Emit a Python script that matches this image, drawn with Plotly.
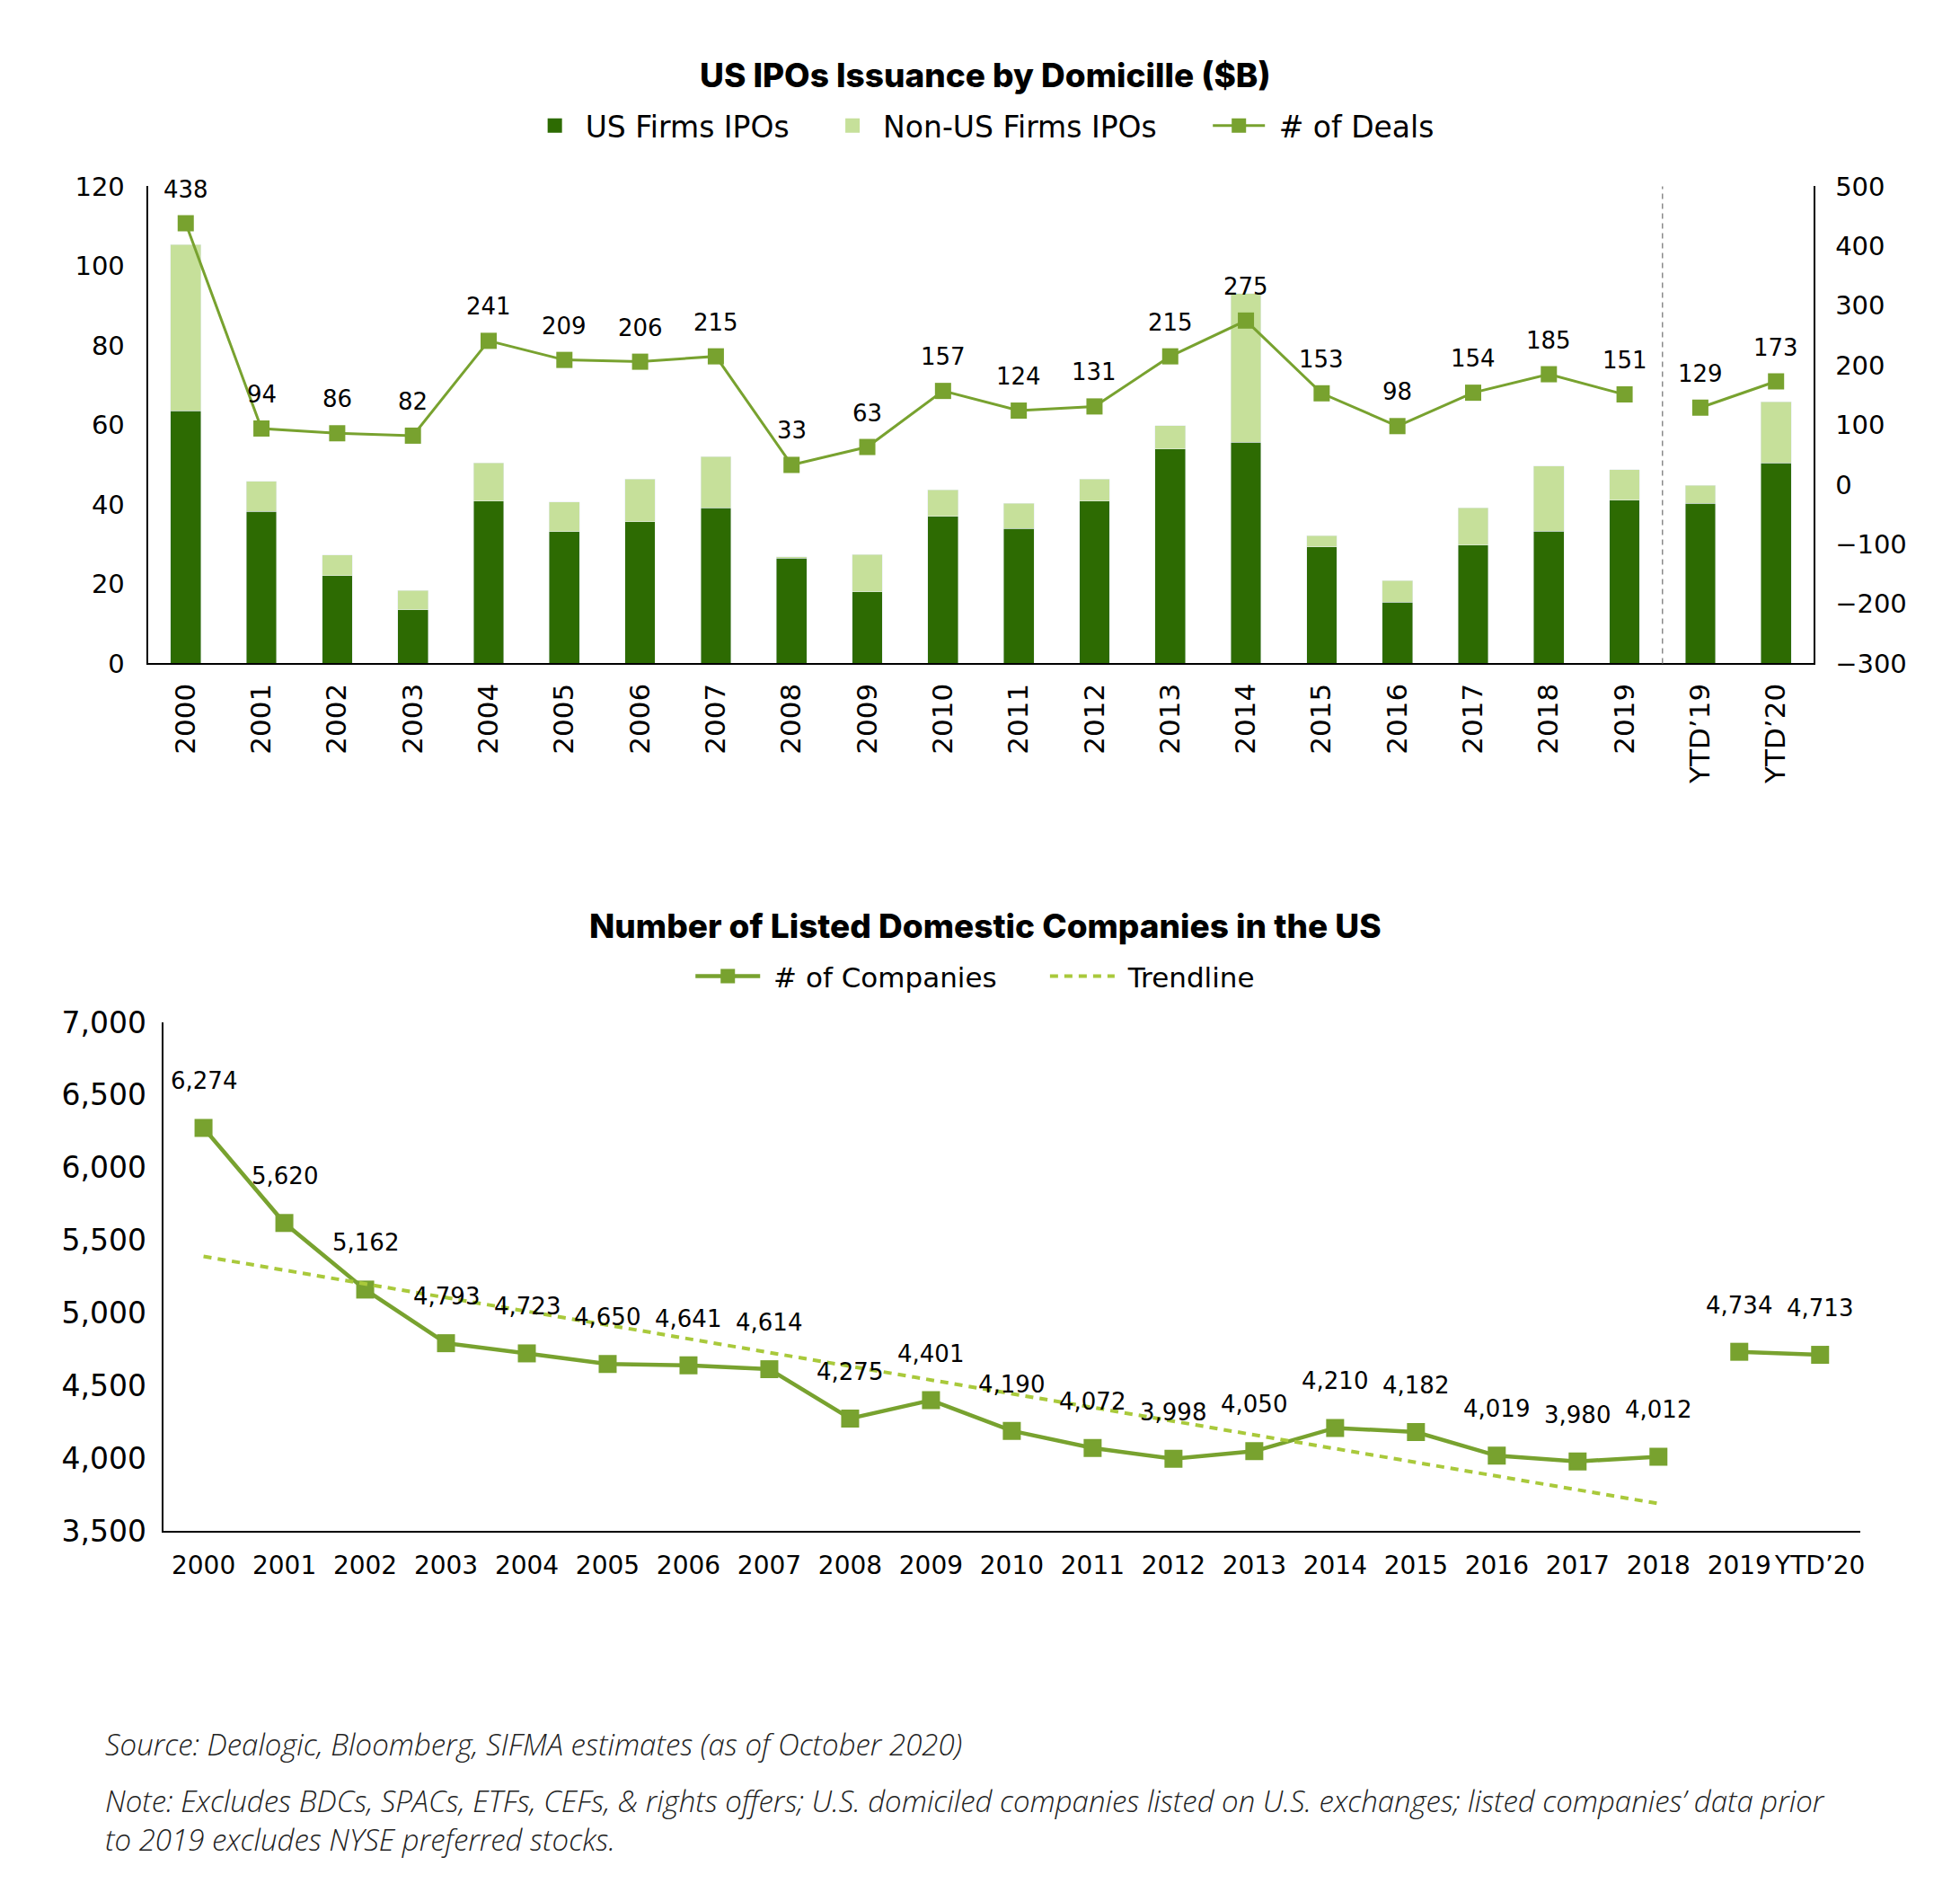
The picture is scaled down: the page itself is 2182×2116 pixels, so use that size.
import plotly.graph_objects as go

# ---------------- data ----------------
ipo_cats = ["2000", "2001", "2002", "2003", "2004", "2005", "2006", "2007", "2008", "2009",
            "2010", "2011", "2012", "2013", "2014", "2015", "2016", "2017", "2018", "2019",
            "YTD\u201919", "YTD\u201920"]
us_ipos = [63.5, 38.3, 22.1, 13.5, 40.9, 33.2, 35.7, 39.2, 26.5, 18.0,
           37.0, 34.0, 40.9, 53.9, 55.7, 29.3, 15.4, 29.8, 33.3, 41.1,
           40.3, 50.4]
non_us_ipos = [41.9, 7.5, 5.2, 4.9, 9.5, 7.4, 10.7, 12.8, 0.3, 9.4,
               6.7, 6.3, 5.5, 5.9, 37.3, 2.8, 5.4, 9.4, 16.4, 7.6,
               4.5, 15.4]
deals = [438, 94, 86, 82, 241, 209, 206, 215, 33, 63,
         157, 124, 131, 215, 275, 153, 98, 154, 185, 151,
         129, 173]
annual_count = 20        # 2000-2019 are connected; the YTD pair is drawn separately

comp_cats = ["2000", "2001", "2002", "2003", "2004", "2005", "2006", "2007", "2008", "2009",
             "2010", "2011", "2012", "2013", "2014", "2015", "2016", "2017", "2018", "2019",
             "YTD\u201920"]
companies = [6274, 5620, 5162, 4793, 4723, 4650, 4641, 4614, 4275, 4401,
             4190, 4072, 3998, 4050, 4210, 4182, 4019, 3980, 4012, 4734,
             4713]
hist_count = 19          # 2000-2018 are one connected series, 2019 on is separate
trend_cats = ["2000", "2018"]
trend_vals = [5390, 3690]

# ---------------- styles ----------------
DARK = "#2d6b02"
LIGHT = "#c6e09a"
LINE = "#78a22f"
TREND = "#a9c93b"
W, H = 2182, 2116
BLACK = "#000000"
TICKFONT = dict(family="DejaVu Sans", size=29, color=BLACK)
LABFONT = dict(family="DejaVu Sans", size=26, color=BLACK)
NB = "\u00a0"


def px_x(p):
    return p / W


def px_y(p):
    return 1 - p / H


fig = go.Figure()

# ---- top chart: stacked bars + deals line ----
fig.add_trace(go.Bar(x=ipo_cats, y=us_ipos, marker_color=DARK, name="US Firms IPOs",
                     showlegend=False, xaxis="x", yaxis="y"))
fig.add_trace(go.Bar(x=ipo_cats, y=non_us_ipos, marker_color=LIGHT, name="Non-US Firms IPOs",
                     showlegend=False, xaxis="x", yaxis="y"))
# legend proxies
fig.add_trace(go.Scatter(x=[None], y=[None], mode="markers", name="US Firms IPOs" + NB * 3,
                         marker=dict(symbol="square", size=16, color=DARK),
                         xaxis="x", yaxis="y", legend="legend"))
fig.add_trace(go.Scatter(x=[None], y=[None], mode="markers", name="Non-US Firms IPOs" + NB * 5,
                         marker=dict(symbol="square", size=16, color=LIGHT),
                         xaxis="x", yaxis="y", legend="legend"))
fig.add_trace(go.Scatter(x=ipo_cats[:annual_count], y=deals[:annual_count],
                         mode="lines+markers", name=NB + "# of Deals",
                         line=dict(color=LINE, width=3),
                         marker=dict(symbol="square", size=18, color=LINE),
                         xaxis="x", yaxis="y2", legend="legend"))
fig.add_trace(go.Scatter(x=ipo_cats[annual_count:], y=deals[annual_count:],
                         mode="lines+markers", name="# of Deals", showlegend=False,
                         line=dict(color=LINE, width=3),
                         marker=dict(symbol="square", size=18, color=LINE),
                         xaxis="x", yaxis="y2"))

for i, v in enumerate(deals):
    fig.add_annotation(x=i, y=v, xref="x", yref="y2", text=str(v), showarrow=False,
                       yshift=38, font=LABFONT)

# ---- bottom chart: companies + trendline ----
fig.add_trace(go.Scatter(x=comp_cats[:hist_count], y=companies[:hist_count],
                         mode="lines+markers", name=NB + "# of Companies" + NB * 5,
                         line=dict(color=LINE, width=4.5),
                         marker=dict(symbol="square", size=20, color=LINE),
                         xaxis="x2", yaxis="y3", legend="legend2"))
fig.add_trace(go.Scatter(x=comp_cats[hist_count:], y=companies[hist_count:],
                         mode="lines+markers", name="# of Companies", showlegend=False,
                         line=dict(color=LINE, width=4.5),
                         marker=dict(symbol="square", size=20, color=LINE),
                         xaxis="x2", yaxis="y3"))
fig.add_trace(go.Scatter(x=trend_cats, y=trend_vals, mode="lines", name=NB + "Trendline",
                         line=dict(color=TREND, width=4, dash="9px,7px"),
                         xaxis="x2", yaxis="y3", legend="legend2"))

for i, v in enumerate(companies):
    fig.add_annotation(x=i, y=v, xref="x2", yref="y3", text=f"{v:,}", showarrow=False,
                       yshift=52, font=LABFONT)

# dashed separator between 2019 and YTD'19
fig.add_shape(type="line", xref="x", yref="y domain", x0=19.5, x1=19.5, y0=0, y1=1,
              line=dict(color="#8a8a8a", width=1.5, dash="6px,5px"))

# titles
TITLEFONT = dict(family="Inter", size=37, color=BLACK, weight=800)
fig.add_annotation(x=px_x(1100), y=px_y(66), xref="paper", yref="paper",
                   text="US IPOs Issuance by Domicille ($B)", showarrow=False,
                   font=TITLEFONT, xanchor="center", yanchor="middle")
fig.add_annotation(x=px_x(1100), y=px_y(1030), xref="paper", yref="paper",
                   text="Number of Listed Domestic Companies in the US", showarrow=False,
                   font=TITLEFONT, xanchor="center", yanchor="middle")

# source / notes
NOTEFONT = dict(family="Open Sans", size=33, color="#222222", style="italic", weight=300)
notes = [
    (1959, "Source: Dealogic, Bloomberg, SIFMA estimates (as of October 2020)"),
    (2023, "Note: Excludes BDCs, SPACs, ETFs, CEFs, & rights offers; U.S. domiciled companies listed on U.S. exchanges; listed companies\u2019 data prior"),
    (2067, "to 2019 excludes NYSE preferred stocks."),
]
for yp, t in notes:
    fig.add_annotation(x=px_x(115), y=px_y(yp), xref="paper", yref="paper", text=t,
                       showarrow=False, font=NOTEFONT, xanchor="left", yanchor="middle")

AXLINE = dict(showline=True, linecolor=BLACK, linewidth=2, showgrid=False,
              zeroline=False)

fig.update_layout(
    width=W, height=H, autosize=False,
    margin=dict(l=0, r=0, t=0, b=0),
    paper_bgcolor="white", plot_bgcolor="white",
    barmode="stack", bargap=0.6,
    font=dict(family="DejaVu Sans", color=BLACK),
    xaxis=dict(domain=[px_x(165), px_x(2024)], anchor="y", type="category",
               range=[-0.5, len(ipo_cats) - 0.5],
               tickangle=-90, tickfont=dict(family="DejaVu Sans", size=31, color=BLACK),
               ticks="", ticklabelstandoff=8, **AXLINE),
    yaxis=dict(domain=[px_y(733), px_y(192)], anchor="x", range=[0, 120], dtick=20,
               tickfont=TICKFONT, ticks="", ticklabelstandoff=18, **AXLINE),
    yaxis2=dict(overlaying="y", side="right", anchor="x", range=[-300, 500], dtick=100,
                tickfont=TICKFONT, ticks="", ticklabelstandoff=16, **AXLINE),
    xaxis2=dict(domain=[px_x(182), px_x(2076)], anchor="y3", type="category",
                range=[-0.5, len(comp_cats) - 0.5],
                tickfont=dict(family="DejaVu Sans", size=28, color=BLACK),
                ticks="", ticklabelstandoff=12, **AXLINE),
    yaxis3=dict(domain=[px_y(1717), px_y(1140)], anchor="x2", range=[3500, 7000], dtick=500,
                tickformat=",", tickfont=dict(family="DejaVu Sans", size=33, color=BLACK),
                ticks="", ticklabelstandoff=10, **AXLINE),
    legend=dict(orientation="h", x=px_x(585), xanchor="left", y=px_y(123),
                yanchor="middle", font=dict(family="DejaVu Sans", size=33, color=BLACK),
                itemwidth=58, traceorder="normal", bgcolor="rgba(0,0,0,0)"),
    legend2=dict(orientation="h", x=px_x(771), xanchor="left", y=px_y(1088),
                 yanchor="middle", font=dict(family="DejaVu Sans", size=31, color=BLACK),
                 itemwidth=72, traceorder="normal", bgcolor="rgba(0,0,0,0)"),
)

fig.write_html("out.html", config={"displayModeBar": False},
               post_script="document.body.style.margin='0';document.body.style.overflow='hidden';")
